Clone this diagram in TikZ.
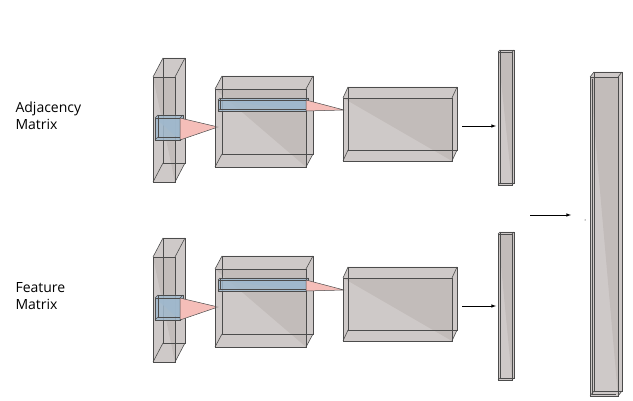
\documentclass[tikz,border=0pt]{standalone}
\usepackage{fontspec}
\setmainfont{Open Sans}
\usepackage{tikz}
\usetikzlibrary{calc}
\definecolor{boxgray}{RGB}{190,183,181}
\definecolor{convblue}{RGB}{160,185,205}
\definecolor{conepink}{RGB}{245,190,185}
% cuboid: front top-left (x,y), width, height, depth offset (dx,dy)
\newcommand{\cuboid}[7][]{%
  \fill[#1] (#2,#3) rectangle ++(#4,#5);
  \fill[#1] (#2,#3) -- ++(#6,-#7) -- ++(#4,0) -- ++(0,#5) -- ++(-#6,#7) -- cycle;
  \draw[box edge] (#2+#6,#3-#7) rectangle ++(#4,#5);
  \draw[box edge] (#2,#3) rectangle ++(#4,#5);
  \draw[box edge] (#2,#3) -- ++(#6,-#7);
  \draw[box edge] (#2+#4,#3) -- ++(#6,-#7);
  \draw[box edge] (#2,#3+#5) -- ++(#6,-#7);
  \draw[box edge] (#2+#4,#3+#5) -- ++(#6,-#7);
}
\begin{document}
\begin{tikzpicture}[
    x=1pt, y=-1pt,
    box edge/.style={draw=black!70, line width=0.6pt},
    layer/.style={fill=boxgray, fill opacity=0.75},
    kernel/.style={fill=convblue, fill opacity=0.85},
    cone/.style={fill=conepink, draw=black!70, line width=0.5pt},
    flow/.style={-latex, line width=0.6pt},
    every node/.style={font=\fontsize{14}{17}\selectfont, align=left}
    ]
    \useasboundingbox (0,0) rectangle (633,401);
    % two input branches
    \foreach \yo/\nm/\lbl in {0/adj/{Adjacency\\Matrix}, 180/feat/{Feature\\Matrix}} {
        \node[anchor=west] (\nm) at (12,116+\yo) {\lbl};
        % Input layer
        \cuboid[layer]{153}{77+\yo}{22}{105}{10}{19}
        \cuboid[kernel]{155}{118+\yo}{25}{22}{3}{3}
        \coordinate (\nm apex1) at (218,127+\yo);
        \draw[cone] (180,118+\yo) -- (\nm apex1) -- (180,140+\yo) -- cycle;
        % Second layer
        \cuboid[layer]{215}{89+\yo}{91}{78}{7}{13}
        \cuboid[kernel]{218}{100+\yo}{88}{11}{2}{2}
        \coordinate (\nm apex2) at (344,110+\yo);
        \draw[cone] (306,100+\yo) -- (\nm apex2) -- (306,111+\yo) -- cycle;
        % Third layer
        \cuboid[layer]{343}{98+\yo}{109}{63}{5}{11}
        \coordinate (\nm out) at (462,126+\yo);
        \coordinate (\nm in) at (496,126+\yo);
        \draw[flow] (\nm out) -- (\nm in);
    }
    % flattened vectors
    \cuboid[layer]{498}{52}{14}{133}{2}{2}
    \cuboid[layer]{498}{234}{14}{146}{2}{2}
    % concatenated vector
    \coordinate (catout) at (530,215);
    \coordinate (catin) at (571,215);
    \draw[flow] (catout) -- (catin);
    \fill (585,220) circle (0.5pt);
    \cuboid[layer]{590}{77}{28}{319}{4}{5}
    \draw[box edge] (592,79) -- (592,394) -- (616,394);
\end{tikzpicture}
\end{document}
